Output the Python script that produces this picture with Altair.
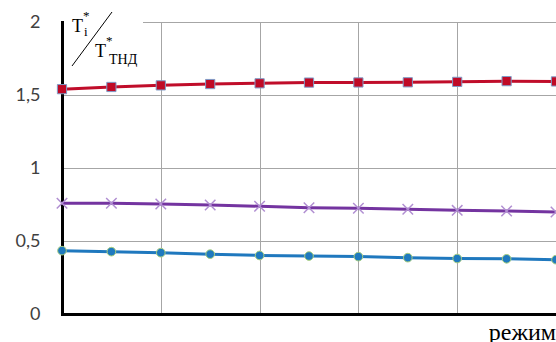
import altair as alt
import pandas as pd

# Data
modes = list(range(11))
red_vals = [1.540, 1.555, 1.566, 1.575, 1.580, 1.585, 1.586, 1.587, 1.590, 1.595, 1.593]
purple_vals = [0.758, 0.758, 0.753, 0.747, 0.738, 0.728, 0.724, 0.717, 0.710, 0.705, 0.699]
blue_vals = [0.434, 0.427, 0.420, 0.410, 0.401, 0.397, 0.393, 0.386, 0.380, 0.378, 0.372]
y_ticks = [0, 0.5, 1, 1.5, 2]
x_grid = [0, 2, 4, 6, 8, 10]
x_title = "режим"

df = pd.DataFrame({
    "mode": modes * 3,
    "value": red_vals + purple_vals + blue_vals,
    "series": ["red"] * 11 + ["purple"] * 11 + ["blue"] * 11,
})
one = pd.DataFrame({"k": [0]})

W, H = 494, 292

x_enc = alt.X(
    "mode:Q",
    scale=alt.Scale(domain=[0, 10], nice=False, zero=False),
    axis=alt.Axis(values=x_grid, labels=False, ticks=False, title=None,
                  domainColor="black", domainWidth=3, domainCap="square",
                  grid=True, gridColor="#a6a6a6", gridWidth=1),
)
y_enc = alt.Y(
    "value:Q",
    scale=alt.Scale(domain=[0, 2], nice=False),
    axis=alt.Axis(values=y_ticks, ticks=False, title=None,
                  labelExpr="replace(toString(datum.value), '.', ',')",
                  labelFont="Lato", labelFontSize=18, labelColor="#404040",
                  labelPadding=22,
                  domainColor="black", domainWidth=3, domainCap="square",
                  grid=True, gridColor="#a6a6a6", gridWidth=1),
)

base = alt.Chart(df).encode(x=x_enc, y=y_enc)

def series(name):
    return base.transform_filter(alt.datum.series == name)

red_line = series("red").mark_line(color="#C00D2A", strokeWidth=3)
red_pts = series("red").mark_point(shape="square", size=85, filled=True,
                                   fill="#C00A26", stroke="#7F9CC8",
                                   strokeWidth=1, opacity=1)
purple_line = series("purple").mark_line(color="#7434A0", strokeWidth=3)
purple_pts = series("purple").mark_point(shape="M-1,-1L1,1M-1,1L1,-1", size=110,
                                         filled=False, stroke="#B18FD2",
                                         strokeWidth=1.5, opacity=1)
blue_line = series("blue").mark_line(color="#1F78BE", strokeWidth=3)
blue_pts = series("blue").mark_point(shape="circle", size=75, filled=True,
                                     fill="#1F7ABF", stroke="#A9CF7E",
                                     strokeWidth=1, opacity=1)

# cover for the top gridline behind the y-axis title
cover = alt.Chart(one).mark_rect(color="white").encode(
    x=alt.value(2), x2=alt.value(81), y=alt.value(-4), y2=alt.value(4))

# y-axis title: T_i* / T_THD*
serif = "Liberation Serif"
def txt(s, x, y, size, align="left", baseline="alphabetic"):
    return alt.Chart(one).mark_text(text=s, font=serif, fontSize=size,
                                    align=align, baseline=baseline,
                                    color="black").encode(
        x=alt.value(x), y=alt.value(y))

t1 = txt("T", 10, 10, 18)
t1_sub = txt("i", 22, 14, 13)
t1_sup = txt("*", 21, -2, 13)
slash = alt.Chart(one).mark_rule(color="black", strokeWidth=1).encode(
    x=alt.value(10), x2=alt.value(50), y=alt.value(44), y2=alt.value(-10))
t2 = txt("T", 33, 35, 18)
t2_sub = txt("ТНД", 47, 42, 14)
t2_sup = txt("*", 44, 23, 13)

xtitle = txt(x_title, W, 318, 24, align="right")

chart = alt.layer(
    red_line, purple_line, blue_line, cover,
    red_pts, purple_pts, blue_pts,
    t1, t1_sub, t1_sup, slash, t2, t2_sub, t2_sup, xtitle,
).properties(
    width=W, height=H,
    autosize=alt.AutoSizeParams(type="none"),
    padding={"left": 62, "top": 22, "right": 0, "bottom": 28},
).configure_view(strokeWidth=0)

chart.save("out.html", embed_options={"renderer": "svg", "actions": False})
